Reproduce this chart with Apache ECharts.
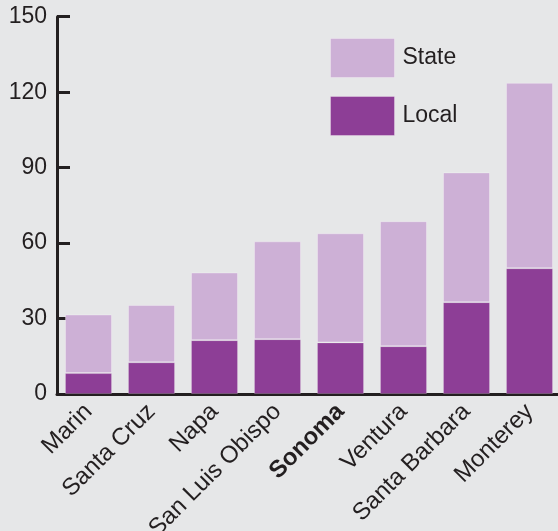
<!DOCTYPE html>
<html>
<head>
<meta charset="utf-8">
<script src="https://cdn.jsdelivr.net/npm/echarts@6/dist/echarts.min.js"></script>
<style>
html,body{margin:0;padding:0;background:#e6e7e8;overflow:hidden;}
#c{width:558px;height:531px;}
</style>
</head>
<body>
<div id="c"></div>
<script>
const categories = ['Marin','Santa Cruz','Napa','San Luis Obispo','Sonoma','Ventura','Santa Barbara','Monterey'];
const localValues = [8.3, 12.6, 21.4, 21.8, 20.5, 19.0, 36.5, 50.0];
const stateValues = [23.3, 22.8, 26.9, 38.9, 43.4, 49.7, 51.6, 73.7];
const yTicks = [0, 30, 60, 90, 120, 150];
const highlightCategory = 'Sonoma';

const ink = '#231f20';
const chart = echarts.init(document.getElementById('c'));
chart.setOption({
  backgroundColor: '#e6e7e8',
  animation: false,
  textStyle: {fontFamily: 'Liberation Sans, Arial, sans-serif'},
  grid: {left: 57, right: -3, top: 16.7, bottom: 137, containLabel: false, outerBoundsMode: 'none'},
  legend: {
    orient: 'vertical',
    left: 330, top: 38, padding: 0,
    itemWidth: 64, itemHeight: 39, itemGap: 18,
    icon: 'rect',
    data: ['State', 'Local'],
    itemStyle: {borderWidth: 1, borderColor: 'rgba(255,255,255,0.3)'},
    textStyle: {fontSize: 23, color: ink, padding: [0,0,0,3], fontFamily: 'Liberation Sans, Arial, sans-serif'}
  },
  xAxis: {
    type: 'category',
    data: categories,
    axisLine: {lineStyle: {color: ink, width: 3}},
    axisTick: {inside: true, length: 9, lineStyle: {color: ink, width: 3}},
    axisLabel: {
      rotate: 45, margin: 14, fontSize: 24, color: ink, interval: 0,
      formatter: v => v === highlightCategory ? '{b|' + v + '}' : v,
      rich: {b: {fontWeight: 'bold', fontSize: 24, color: ink}}
    }
  },
  yAxis: {
    type: 'value', min: yTicks[0], max: yTicks[yTicks.length-1], interval: 30,
    splitLine: {show: false},
    axisLine: {show: true, lineStyle: {color: ink, width: 3}},
    axisTick: {show: true, inside: true, length: 13, lineStyle: {color: ink, width: 3}},
    axisLabel: {fontSize: 23, color: ink, margin: 10}
  },
  series: [
    {name: 'Local', type: 'bar', stack: 't', data: localValues, barWidth: 47,
     itemStyle: {color: '#8d3e96', borderWidth: 1, borderColor: 'rgba(255,255,255,0.2)'}},
    {name: 'State', type: 'bar', stack: 't', data: stateValues, barWidth: 47,
     itemStyle: {color: '#cdb0d6', borderWidth: 1, borderColor: 'rgba(255,255,255,0.3)'}}
  ]
});
</script>
</body>
</html>
